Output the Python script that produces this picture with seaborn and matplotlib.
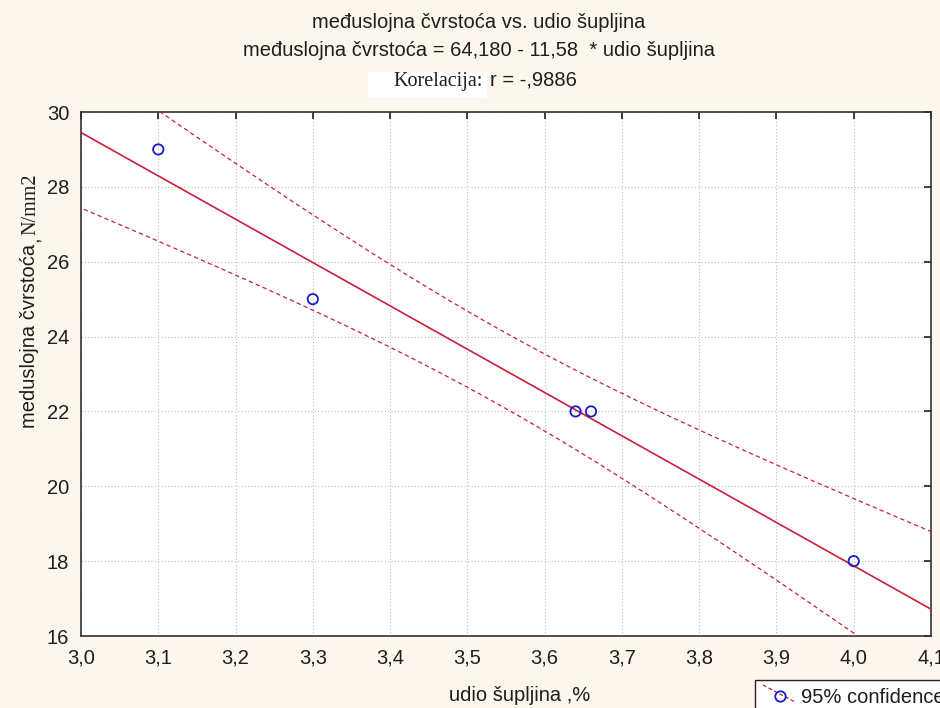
import numpy as np
import pandas as pd
import matplotlib
matplotlib.use("Agg")
import matplotlib.pyplot as plt
import seaborn as sns
from matplotlib.lines import Line2D
from matplotlib.patches import Rectangle

# ---- data ----
udio_supljina = [3.10, 3.30, 3.64, 3.66, 4.00]
cvrstoca = [29.0, 25.0, 22.0, 22.0, 18.0]
x_ticks = [3.0, 3.1, 3.2, 3.3, 3.4, 3.5, 3.6, 3.7, 3.8, 3.9, 4.0, 4.1]
x_tick_labels = ["3,0", "3,1", "3,2", "3,3", "3,4", "3,5", "3,6", "3,7", "3,8", "3,9", "4,0", "4,1"]
y_ticks = [16, 18, 20, 22, 24, 26, 28, 30]
t_crit = 3.182  # t(0.975, df=3)

sns.set_theme(style="white")
plt.rcParams['font.family'] = ['Liberation Sans', 'DejaVu Sans']

BG = '#FCF7EC'
RED = '#C8203C'
BLUE = '#1A1AC8'
TXT = '#1E1E1E'
FS = 14.5
SERIF = ['Liberation Serif', 'DejaVu Serif']

fig = plt.figure(figsize=(9.4, 7.08), dpi=100, facecolor=BG)
W, H = 940, 708
ax = fig.add_axes([81 / W, 1 - 636 / H, (931 - 81) / W, (636 - 112) / H])
ax.set_facecolor('white')

df = pd.DataFrame({"x": udio_supljina, "y": cvrstoca})

# regression + analytic 95% confidence band of the mean
xa = np.array(udio_supljina)
ya = np.array(cvrstoca)
b, a = np.polyfit(xa, ya, 1)
n = len(xa)
resid = ya - (a + b * xa)
s = np.sqrt(np.sum(resid ** 2) / (n - 2))
sxx = np.sum((xa - xa.mean()) ** 2)
xs = np.linspace(2.95, 4.15, 300)
fit = a + b * xs
half = t_crit * s * np.sqrt(1 / n + (xs - xa.mean()) ** 2 / sxx)
band = pd.DataFrame({"x": xs, "fit": fit, "lo": fit - half, "hi": fit + half})

sns.lineplot(data=band, x="x", y="fit", ax=ax, color=RED, lw=1.2, zorder=3)
sns.lineplot(data=band, x="x", y="lo", ax=ax, color=RED, lw=0.9, zorder=3,
             linestyle=(0, (3.5, 2.5)))
sns.lineplot(data=band, x="x", y="hi", ax=ax, color=RED, lw=0.9, zorder=3,
             linestyle=(0, (3.5, 2.5)))
sns.scatterplot(data=df, x="x", y="y", ax=ax, marker='o', s=55,
                facecolor='none', edgecolor=BLUE, linewidth=1.3, zorder=4)

ax.set_xlim(3.0, 4.1)
ax.set_ylim(16, 30)
ax.set_xticks(x_ticks)
ax.set_xticklabels(x_tick_labels)
ax.set_yticks(y_ticks)
ax.set_xlabel("")
ax.set_ylabel("")
ax.grid(True, color='#BDBDBD', linestyle=(0, (1, 2)), linewidth=0.8)
ax.tick_params(direction='in', length=5, width=1.2, top=True, right=True,
               labelsize=FS, colors=TXT)
ax.tick_params(axis='x', pad=9)
ax.tick_params(axis='y', pad=8.5)
for sp in ax.spines.values():
    sp.set_color('#333333')
    sp.set_linewidth(1.2)

# ---- titles ----
tx = 479 / W
fig.text(tx, 1 - 28 / H, "međuslojna čvrstoća vs. udio šupljina", ha='center',
         va='baseline', fontsize=FS, color=TXT)
fig.text(tx, 1 - 56 / H, "međuslojna čvrstoća = 64,180 - 11,58  * udio šupljina",
         ha='center', va='baseline', fontsize=FS, color=TXT)
fig.patches.append(Rectangle((368 / W, 1 - 98 / H), (487 - 368) / W, 26 / H,
                             transform=fig.transFigure, facecolor='white',
                             edgecolor='none', zorder=1))
fig.text(483 / W, 1 - 86 / H, "Korelacija:", ha='right', va='baseline',
         fontsize=14.5, family=SERIF, color=TXT, zorder=2)
fig.text(490 / W, 1 - 86 / H, "r = -,9886", ha='left', va='baseline',
         fontsize=FS, color=TXT, zorder=2)

# ---- axis labels ----
fig.text(520 / W, 1 - 701 / H, "udio šupljina ,%", ha='center', va='baseline',
         fontsize=FS, color=TXT)

fig.canvas.draw()
renderer = fig.canvas.get_renderer()
yl1 = fig.text(35 / W, 1 - 428 / H, "meduslojna čvrstoća", rotation=90,
               rotation_mode='anchor', ha='left', va='baseline', fontsize=FS,
               color=TXT)
ext = yl1.get_window_extent(renderer)
top_px = ext.y1
fig.text(38 / W, (top_px + 2) / H, ",", rotation=90, rotation_mode='anchor',
         ha='left', va='baseline', fontsize=FS, color=TXT)
fig.text(35 / W, (top_px + 9) / H, "N/mm2", rotation=90, rotation_mode='anchor',
         ha='left', va='baseline', fontsize=14.5, family=SERIF, color=TXT)

# ---- legend (partially cut off, as in reference) ----
fig.patches.append(Rectangle((755 / W, -0.02), 0.3, (1 - 680 / H) + 0.02,
                             transform=fig.transFigure, facecolor='white',
                             edgecolor='#222222', linewidth=1.0, zorder=5))
fig.lines.append(Line2D([763 / W, 795 / W], [1 - 685 / H, 1 - 702 / H],
                        transform=fig.transFigure, color=RED, lw=0.9,
                        linestyle=(0, (3, 2)), zorder=6))
fig.lines.append(Line2D([780 / W], [1 - 696 / H], transform=fig.transFigure,
                        marker='o', markersize=7.5, markerfacecolor='none',
                        markeredgecolor=BLUE, markeredgewidth=1.3, zorder=7))
fig.text(801 / W, 1 - 703 / H, "95% confidence", ha='left', va='baseline',
         fontsize=FS, color=TXT, zorder=8)

fig.savefig("out.png", dpi=100, facecolor=BG)
